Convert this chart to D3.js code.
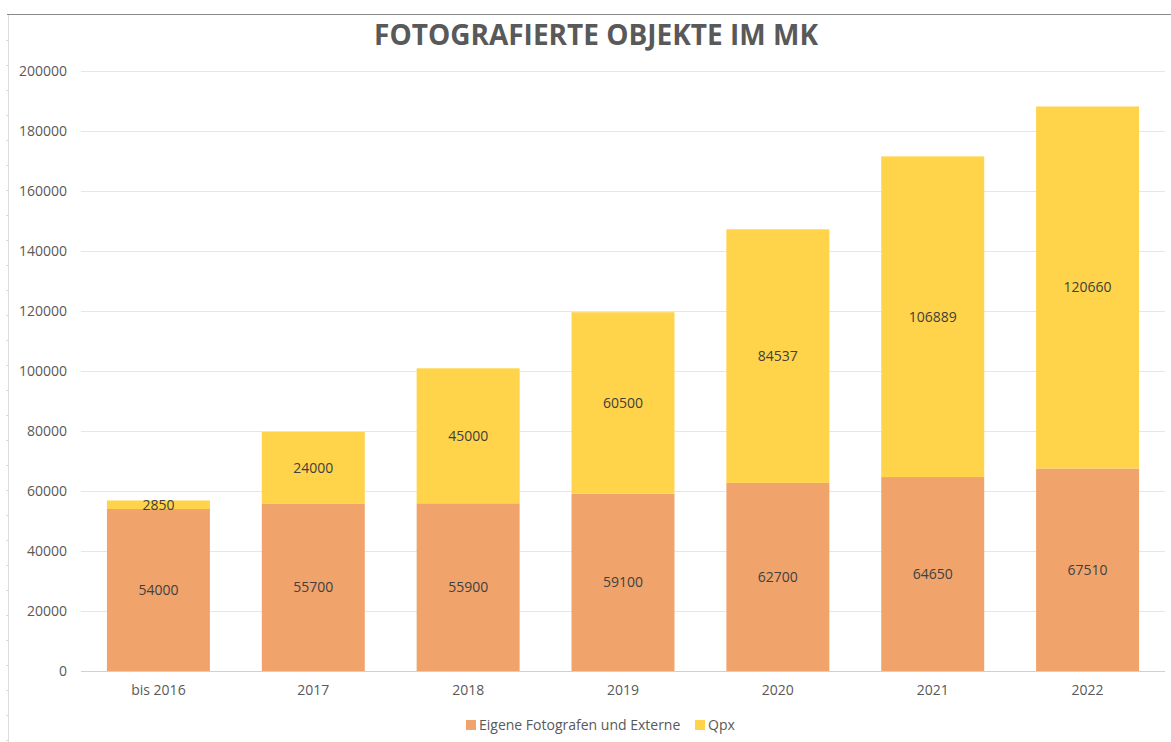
<!DOCTYPE html>
<html>
<head>
<meta charset="utf-8">
<script src="https://cdn.jsdelivr.net/npm/d3@7"></script>
<style>
  body { margin: 0; background: #fff; }
  svg { display: block; font-family: "Open Sans", "Noto Sans", sans-serif; }
</style>
</head>
<body>
<div id="chart"></div>
<script>
// data
const categories = ['bis 2016', '2017', '2018', '2019', '2020', '2021', '2022'];
const eigene = [54000, 55700, 55900, 59100, 62700, 64650, 67510];
const qpx = [2850, 24000, 45000, 60500, 84537, 106889, 120660];
const yTicks = [0, 20000, 40000, 60000, 80000, 100000, 120000, 140000, 160000, 180000, 200000];
const seriesNames = ['Eigene Fotografen und Externe', 'Qpx'];

const width = 1171, height = 742;
const margin = {top: 71, right: 6, bottom: 71, left: 81};

const C = {
  colors: ['#F0A46C', '#FFD44A'],
  grid: '#e6e6e6',
  axis: '#d0d0d0',
  text: '#595959',
  label: '#404040',
};

const svg = d3.select('#chart').append('svg')
  .attr('width', width)
  .attr('height', height);

// frame lines from the original screenshot
svg.append('line')
  .attr('x1', 7).attr('x2', width).attr('y1', 14.5).attr('y2', 14.5)
  .attr('stroke', '#8a8a8a').attr('stroke-width', 1.2);
svg.append('line')
  .attr('x1', 8.5).attr('x2', 8.5).attr('y1', 15).attr('y2', height)
  .attr('stroke', '#dddddd');
svg.selectAll('.ruler').data(d3.range(40, height, 25))
  .join('line')
  .attr('x1', 6).attr('x2', 9)
  .attr('y1', d => d + 0.5).attr('y2', d => d + 0.5)
  .attr('stroke', '#d8d8d8');

const x = d3.scaleBand()
  .domain(categories)
  .range([margin.left, width - margin.right])
  .paddingInner(0.335)
  .paddingOuter(0.1675);

const y = d3.scaleLinear()
  .domain([0, 200000])
  .range([height - margin.bottom, margin.top]);

// gridlines
svg.append('g')
  .selectAll('line').data(yTicks.filter(d => d > 0))
  .join('line')
  .attr('x1', margin.left).attr('x2', width - margin.right)
  .attr('y1', d => Math.round(y(d)) + 0.5).attr('y2', d => Math.round(y(d)) + 0.5)
  .attr('stroke', C.grid);

// y axis labels
const yAxis = svg.append('g')
  .attr('transform', `translate(${margin.left - 14},0)`)
  .call(d3.axisLeft(y).tickValues(yTicks).tickSize(0).tickPadding(0).tickFormat(d3.format('d')));
yAxis.select('.domain').remove();
yAxis.selectAll('text')
  .attr('fill', C.text)
  .style('font-size', '14px')
  .style('font-family', '"Open Sans", sans-serif');

// stacked bars
const rows = categories.map((c, i) => ({cat: c, eigene: eigene[i], qpx: qpx[i]}));
const stacked = d3.stack().keys(['eigene', 'qpx'])(rows);

const layers = svg.append('g').selectAll('g')
  .data(stacked)
  .join('g')
  .attr('fill', (d, i) => C.colors[i]);

layers.selectAll('rect')
  .data(d => d)
  .join('rect')
  .attr('x', d => x(d.data.cat))
  .attr('width', x.bandwidth())
  .attr('y', d => y(d[1]))
  .attr('height', d => y(d[0]) - y(d[1]));

// value labels
layers.selectAll('text')
  .data(d => d.map(v => ({v, key: d.key})))
  .join('text')
  .attr('x', d => x(d.v.data.cat) + x.bandwidth() / 2)
  .attr('y', d => (y(d.v[0]) + y(d.v[1])) / 2)
  .attr('dy', '0.35em')
  .attr('text-anchor', 'middle')
  .attr('fill', C.label)
  .style('font-size', '14px')
  .text(d => d.v.data[d.key]);

// x axis
svg.append('line')
  .attr('x1', margin.left).attr('x2', width - margin.right)
  .attr('y1', y(0) + 0.5).attr('y2', y(0) + 0.5)
  .attr('stroke', C.axis);

svg.append('g').selectAll('text')
  .data(categories)
  .join('text')
  .attr('x', d => x(d) + x.bandwidth() / 2)
  .attr('y', y(0) + 24)
  .attr('text-anchor', 'middle')
  .attr('fill', C.text)
  .style('font-size', '14px')
  .text(d => d);

// title
svg.append('text')
  .attr('x', 596)
  .attr('y', 45)
  .attr('text-anchor', 'middle')
  .attr('fill', '#595959')
  .style('font-size', '28px')
  .style('font-weight', 'bold')
  .text('FOTOGRAFIERTE OBJEKTE IM MK');

// legend
const legend = svg.append('g').attr('transform', 'translate(466,725)');
const legendX = [0, 229];
const items = legend.selectAll('g')
  .data(seriesNames)
  .join('g')
  .attr('transform', (d, i) => `translate(${legendX[i]},0)`);
items.append('rect')
  .attr('x', 0).attr('y', -5)
  .attr('width', 10).attr('height', 10)
  .attr('fill', (d, i) => C.colors[i]);
items.append('text')
  .attr('x', 13)
  .attr('dy', '0.35em')
  .attr('fill', C.text)
  .style('font-size', '14px')
  .text(d => d);
</script>
</body>
</html>
